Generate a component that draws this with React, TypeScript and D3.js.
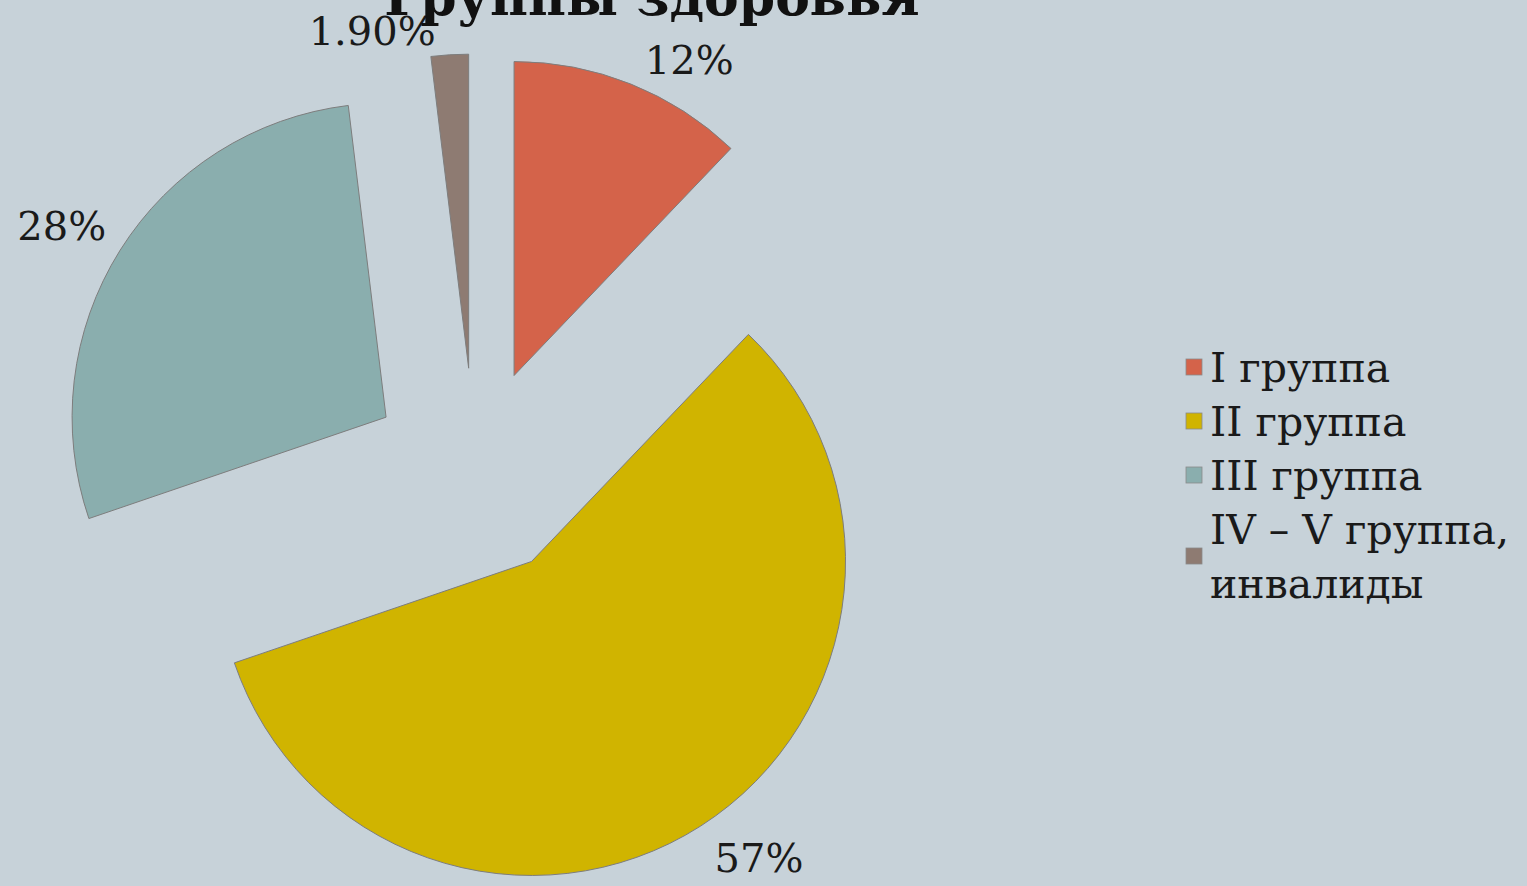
import * as d3 from 'd3';
import { useEffect, useRef } from 'react';

const title = 'Группы здоровья';
const categories = ['I группа', 'II группа', 'III группа', 'IV – V группа, инвалиды'];
const legendLines = [['I группа'], ['II группа'], ['III группа'], ['IV – V группа,', 'инвалиды']];
const values = [12, 57, 28, 1.9];
const valueLabels = ['12%', '57%', '28%', '1.90%'];
const colors = ['#d4634a', '#d0b400', '#8aaeae', '#8e7b72'];

const W = 1527;
const H = 886;

export default function App() {
  const svgRef = useRef<SVGSVGElement>(null);

  useEffect(() => {
    if (!svgRef.current) return;
    const svg = d3.select(svgRef.current);
    svg.selectAll('*').remove();

    svg.append('rect').attr('width', W).attr('height', H).attr('fill', '#c7d2d9');

    const cx = 475;
    const cy = 473;
    const radius = 314;
    const explode = 105;

    const pie = d3.pie<number>().sort(null).value((d) => d);
    const arcs = pie(values);
    const arc = d3.arc<d3.PieArcDatum<number>>().innerRadius(0).outerRadius(radius);

    const g = svg.append('g').attr('transform', `translate(${cx},${cy})`);

    const slices = g
      .selectAll('g.slice')
      .data(arcs)
      .enter()
      .append('g')
      .attr('class', 'slice')
      .attr('transform', (d) => {
        const mid = (d.startAngle + d.endAngle) / 2;
        return `translate(${Math.sin(mid) * explode},${-Math.cos(mid) * explode})`;
      });

    slices
      .append('path')
      .attr('d', arc)
      .attr('fill', (_, i) => colors[i])
      .attr('stroke', '#7d7d7d')
      .attr('stroke-width', 1);

    // value labels, outside end
    slices
      .append('text')
      .each(function (d, i) {
        const mid = (d.startAngle + d.endAngle) / 2;
        const sx = Math.sin(mid);
        const sy = -Math.cos(mid);
        const px = sx * radius + (sx >= 0 ? 14 : -14);
        const py = sy * radius + (sy >= 0 ? 32 : -24);
        d3.select(this)
          .attr('x', px)
          .attr('y', py)
          .attr('text-anchor', sx >= 0 ? 'start' : 'end')
          .attr('dominant-baseline', 'central')
          .text(valueLabels[i]);
      })
      .style('font-family', '"DejaVu Serif", serif')
      .style('font-size', '40px')
      .attr('fill', '#1a1a1a');

    // title, partly cut off at the top as in the original slide
    svg
      .append('text')
      .attr('x', 652)
      .attr('y', 15)
      .attr('text-anchor', 'middle')
      .style('font-family', '"DejaVu Serif", serif')
      .style('font-weight', 'bold')
      .style('font-size', '52px')
      .attr('fill', '#111')
      .text(title);

    // legend
    const lineH = 54;
    let y = 382;
    const legend = svg.append('g');
    categories.forEach((c, i) => {
      const lines = legendLines[i];
      const item = legend.append('g').attr('data-name', c);
      const mid = y - 15 + ((lines.length - 1) * lineH) / 2;
      item
        .append('rect')
        .attr('x', 1186)
        .attr('y', mid - 8)
        .attr('width', 16)
        .attr('height', 16)
        .attr('fill', colors[i])
        .attr('stroke', '#8a8a8a')
        .attr('stroke-width', 0.8);
      lines.forEach((ln, j) => {
        item
          .append('text')
          .attr('x', 1210)
          .attr('y', y + j * lineH)
          .style('font-family', '"DejaVu Serif", serif')
          .style('font-size', '41px')
          .attr('fill', '#1a1a1a')
          .text(ln);
      });
      y += lines.length * lineH;
    });
  }, []);

  return (
    <svg
      ref={svgRef}
      width={W}
      height={H}
      style={{ position: 'absolute', left: 0, top: 0, display: 'block' }}
    />
  );
}
